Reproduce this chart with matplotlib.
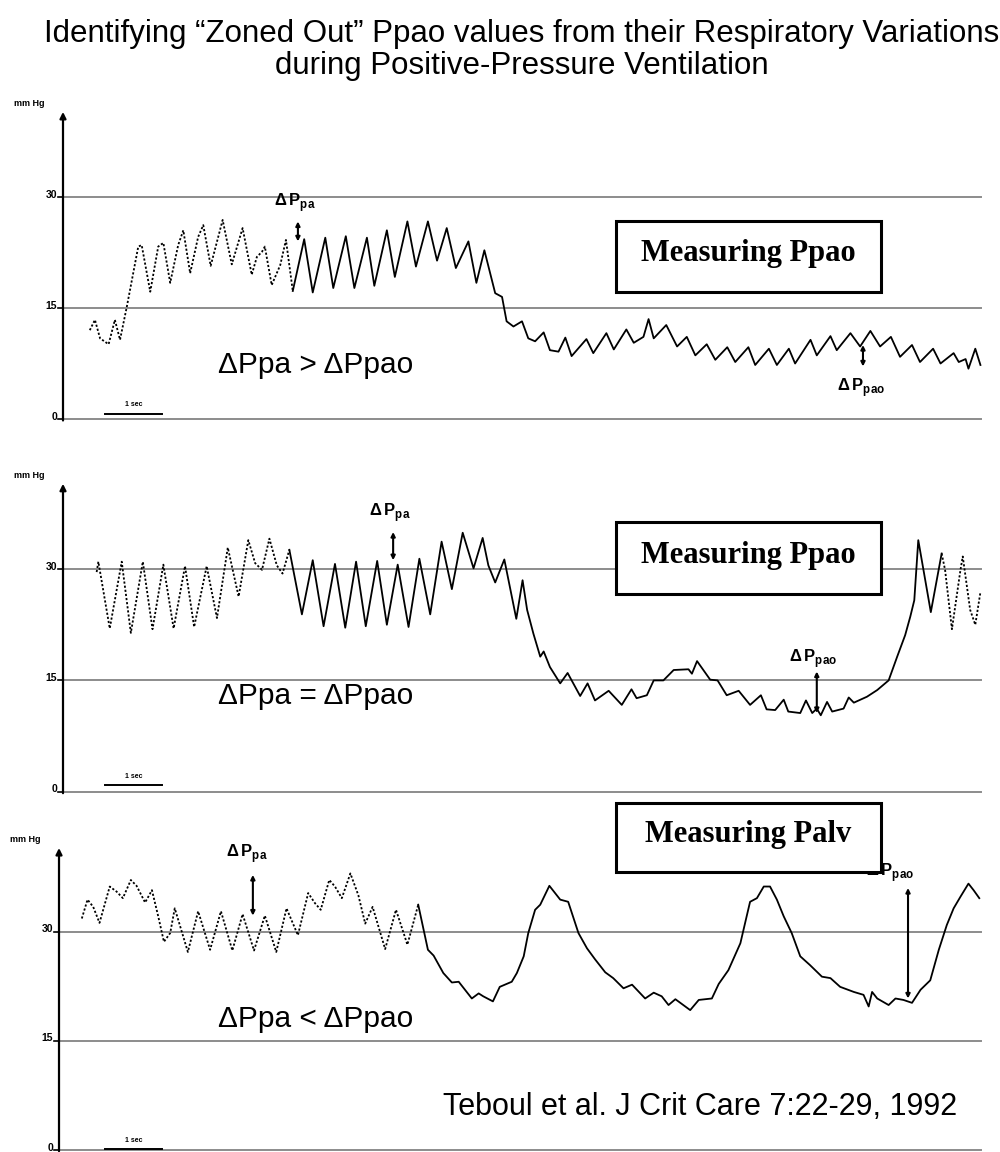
import numpy as np
import matplotlib.pyplot as plt
from matplotlib.patches import Rectangle

plt.rcParams['font.family'] = ['Liberation Sans', 'DejaVu Sans']
plt.rcParams['mathtext.fontset'] = 'custom'
plt.rcParams['mathtext.rm'] = 'Liberation Sans'
plt.rcParams['mathtext.bf'] = 'Liberation Sans:bold'

# --- traces (time in s, pressure in mm Hg) ---
top_t = [0.47, 0.56, 0.65, 0.80, 0.91, 1.00, 1.12, 1.32,
         1.38, 1.53, 1.67, 1.76, 1.88, 2.02, 2.11, 2.23,
         2.37, 2.46, 2.59, 2.80, 2.96, 3.15, 3.31, 3.40,
         3.49, 3.54, 3.66, 3.81, 3.91, 4.03, 4.23, 4.38,
         4.60, 4.74, 4.96, 5.11, 5.33, 5.46, 5.68, 5.82,
         6.04, 6.19, 6.40, 6.56, 6.73, 6.89, 7.11, 7.25,
         7.39, 7.58, 7.70, 7.78, 7.90, 8.05, 8.16, 8.28,
         8.43, 8.54, 8.69, 8.81, 8.92, 9.18, 9.30, 9.53,
         9.66, 9.88, 10.01, 10.18, 10.27, 10.36, 10.58, 10.77,
         10.94, 11.09, 11.29, 11.44, 11.65, 11.79, 12.02, 12.14,
         12.38, 12.52, 12.73, 12.84, 13.11, 13.22, 13.46, 13.57,
         13.81, 13.98, 14.16, 14.33, 14.52, 14.68, 14.89, 15.03,
         15.26, 15.39, 15.62, 15.71, 15.83, 15.88, 16.00, 16.09]
top_p = [12.0, 13.4, 10.9, 10.1, 13.4, 10.7, 15.2, 23.3,
         23.5, 17.2, 23.3, 23.8, 18.4, 23.5, 25.5, 19.7,
         24.6, 26.2, 20.7, 26.9, 20.9, 25.8, 19.5, 21.9,
         22.6, 23.3, 18.1, 20.8, 24.2, 17.3, 24.3, 17.1,
         24.5, 17.7, 24.7, 17.7, 24.5, 18.0, 25.5, 19.2,
         26.7, 20.6, 26.7, 21.4, 25.8, 20.4, 24.0, 18.4,
         22.8, 17.0, 16.5, 13.2, 12.5, 13.2, 10.9, 10.5,
         11.7, 9.3, 9.1, 11.0, 8.5, 10.8, 8.9, 11.6,
         9.4, 12.1, 10.3, 11.1, 13.5, 10.9, 12.7, 9.8,
         11.1, 8.6, 10.1, 8.0, 9.7, 7.7, 9.7, 7.3,
         9.5, 7.3, 9.5, 7.5, 10.7, 8.6, 11.2, 9.3,
         11.6, 9.8, 11.9, 9.8, 11.1, 8.4, 10.0, 7.7,
         9.5, 7.5, 8.9, 7.7, 8.1, 6.8, 9.5, 7.3]

mid_t = [0.59, 0.62, 0.82, 1.03, 1.19, 1.40, 1.57, 1.76,
         1.94, 2.14, 2.30, 2.52, 2.70, 2.89, 3.08, 3.25,
         3.37, 3.49, 3.62, 3.75, 3.85, 3.97, 4.19, 4.38,
         4.57, 4.77, 4.95, 5.14, 5.31, 5.51, 5.68, 5.87,
         6.06, 6.25, 6.44, 6.64, 6.82, 7.01, 7.20, 7.36,
         7.46, 7.58, 7.74, 7.95, 8.06, 8.14, 8.25, 8.37,
         8.43, 8.54, 8.72, 8.85, 9.07, 9.20, 9.33, 9.57,
         9.80, 9.97, 10.06, 10.24, 10.36, 10.53, 10.71, 10.97,
         11.03, 11.12, 11.35, 11.48, 11.64, 11.85, 12.05, 12.24,
         12.34, 12.49, 12.64, 12.72, 12.93, 13.03, 13.14, 13.22,
         13.29, 13.40, 13.49, 13.69, 13.78, 13.87, 14.10, 14.28,
         14.48, 14.63, 14.77, 14.86, 14.93, 15.00, 15.22, 15.41,
         15.47, 15.59, 15.74, 15.78, 15.91, 16.00, 16.09]
mid_p = [29.6, 31.0, 22.0, 31.0, 21.4, 31.0, 21.9, 30.6,
         22.0, 30.4, 22.2, 30.4, 23.4, 32.9, 26.3, 33.9,
         30.8, 29.9, 34.1, 30.5, 29.4, 32.6, 23.9, 31.2,
         22.3, 30.7, 22.1, 31.0, 22.3, 31.1, 22.5, 30.6,
         22.2, 31.4, 23.9, 33.7, 27.3, 34.9, 30.1, 34.2,
         30.5, 28.2, 31.3, 23.3, 28.5, 24.5, 21.3, 18.2,
         18.9, 16.8, 14.6, 16.0, 12.9, 14.6, 12.3, 13.6,
         11.7, 13.8, 12.6, 13.0, 15.0, 15.0, 16.4, 16.5,
         15.9, 17.6, 15.1, 15.0, 13.0, 13.6, 11.7, 13.0,
         11.1, 11.0, 12.4, 10.8, 10.6, 12.3, 10.6, 11.2,
         10.3, 12.1, 10.8, 11.2, 12.7, 12.0, 12.8, 13.7,
         15.0, 18.2, 21.1, 23.6, 25.8, 33.9, 24.2, 32.1,
         29.9, 21.9, 29.9, 31.7, 24.5, 22.5, 26.9]

bot_t = [0.33, 0.43, 0.53, 0.64, 0.82, 0.94, 1.05, 1.19,
         1.29, 1.44, 1.56, 1.67, 1.77, 1.88, 1.96, 2.19,
         2.37, 2.58, 2.77, 2.97, 3.15, 3.35, 3.54, 3.74,
         3.92, 4.12, 4.30, 4.42, 4.52, 4.67, 4.77, 4.89,
         5.04, 5.18, 5.30, 5.43, 5.65, 5.84, 6.04, 6.23,
         6.40, 6.50, 6.67, 6.82, 6.94, 7.17, 7.29, 7.37,
         7.54, 7.66, 7.87, 7.96, 8.08, 8.16, 8.28, 8.37,
         8.53, 8.72, 8.86, 9.04, 9.19, 9.33, 9.51, 9.65,
         9.83, 9.98, 10.21, 10.36, 10.50, 10.62, 10.74, 11.00,
         11.15, 11.38, 11.50, 11.67, 11.88, 11.99, 12.05, 12.17,
         12.29, 12.40, 12.52, 12.64, 12.78, 12.93, 13.10, 13.31,
         13.46, 13.63, 13.87, 14.04, 14.13, 14.19, 14.28, 14.48,
         14.60, 14.74, 14.89, 15.04, 15.21, 15.36, 15.50, 15.62,
         15.74, 15.88, 15.97, 16.07]
bot_p = [31.8, 34.4, 33.4, 31.2, 36.2, 35.5, 34.6, 37.1,
         36.3, 34.0, 35.7, 32.1, 28.6, 29.8, 33.2, 27.2,
         32.8, 27.5, 32.8, 27.4, 32.4, 27.4, 32.2, 27.2,
         33.2, 29.5, 35.3, 33.9, 33.0, 37.1, 36.2, 34.6,
         38.0, 35.0, 31.1, 33.4, 27.6, 33.0, 28.2, 33.7,
         27.5, 26.7, 24.3, 23.0, 23.1, 20.8, 21.5, 21.1,
         20.4, 22.4, 23.1, 24.3, 26.6, 29.8, 33.0, 33.7,
         36.3, 34.4, 34.1, 29.8, 27.7, 26.2, 24.4, 23.6,
         22.2, 22.7, 20.8, 21.6, 21.1, 19.9, 20.7, 19.2,
         20.6, 20.8, 22.8, 24.7, 28.4, 32.1, 34.1, 34.6,
         36.2, 36.2, 34.4, 32.1, 29.8, 26.6, 25.4, 23.8,
         23.6, 22.4, 21.7, 21.3, 19.7, 21.7, 20.8, 19.9,
         20.8, 20.6, 20.2, 22.0, 23.3, 27.5, 30.9, 33.2,
         34.8, 36.6, 35.7, 34.6]

grid_levels = [0, 15, 30]
tick_labels = ['0', '15', '30']
conditions = ['\u0394Ppa > \u0394Ppao', '\u0394Ppa = \u0394Ppao', '\u0394Ppa < \u0394Ppao']
box_labels = ['Measuring Ppao', 'Measuring Ppao', 'Measuring Palv']

W, H = 1000, 1152
fig = plt.figure(figsize=(W / 100, H / 100), dpi=100)


def make_axes(y_zero, ppu, vmin=-3, vmax=48):
    # y_zero: pixel row of 0 mm Hg, ppu: pixels per mm Hg
    bottom = y_zero - vmin * ppu
    top = y_zero - vmax * ppu
    ax = fig.add_axes([63 / W, 1 - bottom / H, 918 / W, (bottom - top) / H])
    ax.set_xlim(0, 16.1)
    ax.set_ylim(vmin, vmax)
    ax.axis('off')
    return ax


def plot_trace(ax, t, p, dotted):
    t = np.asarray(t)
    p = np.asarray(p)
    mid = (t[:-1] + t[1:]) / 2
    is_dot = np.zeros(len(mid), bool)
    for a, b in dotted:
        is_dot |= (mid > a) & (mid < b)
    start = 0
    for i in range(1, len(mid) + 1):
        if i == len(mid) or is_dot[i] != is_dot[start]:
            seg = slice(start, i + 1)
            ls = (0, (1.2, 1.1)) if is_dot[start] else '-'
            ax.plot(t[seg], p[seg], color='black', lw=1.3, ls=ls,
                    clip_on=False, solid_joinstyle='round', zorder=3)
            start = i


def frame(ax, axis_x, bar_y):
    for lev in grid_levels:
        ax.plot([axis_x, 16.1], [lev, lev], color='#8c8c8c', lw=1.4,
                zorder=1, clip_on=False)
        ax.plot([axis_x - 0.08, axis_x], [lev, lev], color='black', lw=1.2,
                clip_on=False)
    for lev, lab in zip(grid_levels, tick_labels):
        ax.text(axis_x - 0.1, lev + 0.3, lab, ha='right', va='center',
                fontsize=7.5, fontweight='bold')
    ax.annotate('', xy=(axis_x, 41.5), xytext=(axis_x, -0.2),
                annotation_clip=False,
                arrowprops=dict(arrowstyle='-|>', color='black', lw=1.6,
                                mutation_scale=9, shrinkA=0, shrinkB=0))
    ax.text(axis_x - 0.6, 42.6, 'mm Hg', ha='center', va='center',
            fontsize=6.5, fontweight='bold')
    ax.plot([0.74, 1.74], [bar_y, bar_y], color='black', lw=1.4, clip_on=False)
    ax.text(1.24, bar_y + 1.2, '1 sec', ha='center', va='center',
            fontsize=5, fontweight='bold')


def delta(ax, label, tx, ty, ax_t, a_top, a_bot, ha='center', va='center', z=4):
    ax.text(tx, ty, label, ha=ha, va=va, fontsize=12, zorder=z)
    ax.annotate('', xy=(ax_t, a_top), xytext=(ax_t, a_bot),
                annotation_clip=False,
                arrowprops=dict(arrowstyle='<|-|>', color='black', lw=1.5,
                                mutation_scale=6, shrinkA=0, shrinkB=0))


def box(ax, label, v0, v1):
    ax.add_patch(Rectangle((9.70, v0), 4.64, v1 - v0, facecolor='white',
                           edgecolor='black', lw=2.2, zorder=6, clip_on=False))
    ax.text(12.02, (v0 + v1) / 2 + 0.4, label, ha='center', va='center',
            family='Liberation Serif', fontweight='bold', fontsize=22, zorder=7)


dpa = r'$\mathbf{\Delta\,P}_{\mathbf{pa}}$'
dpao = r'$\mathbf{\Delta\,P}_{\mathbf{pao}}$'

# panel 1
ax1 = make_axes(419, 7.4)
frame(ax1, 0, 0.7)
plot_trace(ax1, top_t, top_p, [(0, 4.03)])
box(ax1, box_labels[0], 17.1, 26.7)
ax1.text(2.72, 7.3, conditions[0], ha='left', va='center', fontsize=21.5)
delta(ax1, dpa, 4.07, 29.3, 4.12, 26.7, 24.0)
delta(ax1, dpao, 14.0, 4.2, 14.03, 10.0, 7.1)

# panel 2
ax2 = make_axes(791.7, 7.42)
frame(ax2, 0, 0.9)
plot_trace(ax2, mid_t, mid_p, [(0, 3.97), (15.41, 16.2)])
box(ax2, box_labels[1], 26.7, 36.3)
ax2.text(2.72, 12.9, conditions[1], ha='left', va='center', fontsize=21.5)
delta(ax2, dpa, 5.74, 37.6, 5.79, 35.0, 31.2)
delta(ax2, dpao, 13.16, 18.0, 13.22, 16.2, 10.6)

# panel 3
ax3 = make_axes(1149.7, 7.27, vmin=-0.3)
frame(ax3, -0.07, 0.1)
plot_trace(ax3, bot_t, bot_p, [(0, 6.23)])
box(ax3, box_labels[2], 38.2, 47.7)
ax3.text(2.72, 18.0, conditions[2], ha='left', va='center', fontsize=21.5)
delta(ax3, dpa, 3.22, 40.8, 3.33, 37.8, 32.2)
delta(ax3, dpao, 14.09, 37.6, 14.82, 36.0, 20.8, ha='left', va='baseline', z=5)

fig.text(522 / W, 1 - 42 / H, 'Identifying \u201cZoned Out\u201d Ppao values from their Respiratory Variations',
         ha='center', va='baseline', fontsize=22.5)
fig.text(522 / W, 1 - 74 / H, 'during Positive-Pressure Ventilation',
         ha='center', va='baseline', fontsize=22.5)
fig.text(443 / W, 1 - 1107 / H, 'Teboul et al. J Crit Care 7:22-29, 1992',
         ha='left', va='center', fontsize=22)

fig.savefig('out.png', dpi=100, facecolor='white')
